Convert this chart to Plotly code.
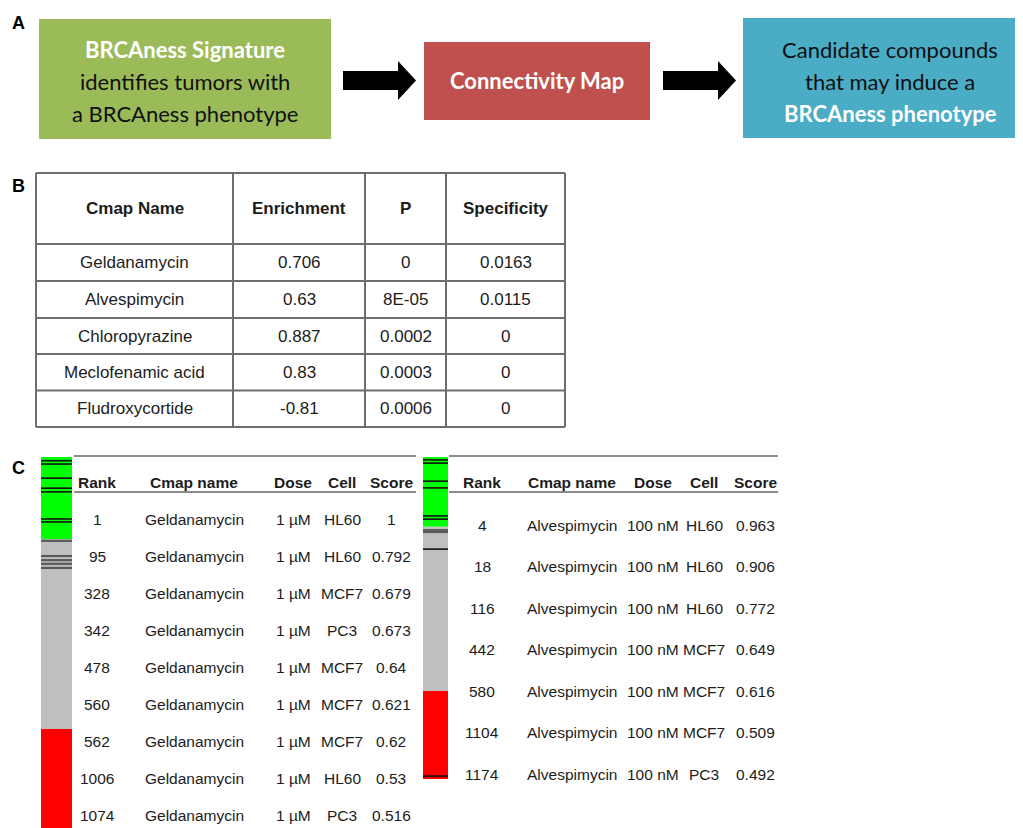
import plotly.graph_objects as go

# ---------------- DATA ----------------
flow_text = [
    ["BRCAness Signature", "identifies tumors with", "a BRCAness phenotype"],
    ["Connectivity Map"],
    ["Candidate compounds", "that may induce a", "BRCAness phenotype"],
]
flow_emphasis = [[True, False, False], [True], [False, False, True]]

b_headers = ["Cmap Name", "Enrichment", "P", "Specificity"]
b_names = ["Geldanamycin", "Alvespimycin", "Chloropyrazine", "Meclofenamic acid", "Fludroxycortide"]
b_enrichment = [0.706, 0.63, 0.887, 0.83, -0.81]
b_p = ["0", "8E-05", "0.0002", "0.0003", "0.0006"]
b_specificity = ["0.0163", "0.0115", "0", "0", "0"]

c_headers = ["Rank", "Cmap name", "Dose", "Cell", "Score"]
gel_rank = [1, 95, 328, 342, 478, 560, 562, 1006, 1074]
gel_name = "Geldanamycin"
gel_dose = "1 µM"
gel_cell = ["HL60", "HL60", "MCF7", "PC3", "MCF7", "MCF7", "MCF7", "HL60", "PC3"]
gel_score = ["1", "0.792", "0.679", "0.673", "0.64", "0.621", "0.62", "0.53", "0.516"]

alv_rank = [4, 18, 116, 442, 580, 1104, 1174]
alv_name = "Alvespimycin"
alv_dose = "100 nM"
alv_cell = ["HL60", "HL60", "HL60", "MCF7", "MCF7", "MCF7", "PC3"]
alv_score = ["0.963", "0.906", "0.772", "0.649", "0.616", "0.509", "0.492"]

# barcode strips (percent of strip length from top)
gel_segments = [(0, 22.1), (22.1, 73.3), (73.3, 100)]
gel_black = [1.0, 1.9, 5.7, 8.4, 9.4, 16.7, 17.5]
gel_dark = [22.6, 26.7, 27.8, 28.8, 29.9]
alv_segments = [(0, 21.7), (21.7, 72.7), (72.7, 100)]
alv_black = [0.9, 1.9, 7.5, 9.6, 18.3, 19.3, 28.6, 99.1]
alv_dark = [23.0]

# ---------------- STYLE / LAYOUT ----------------
PX, PY = 8, 8            # page body margin
W, H = 1023, 828          # page coordinates used below
FW, FH = W - PX, H - PY   # figure size
seg_colors = ["#00FF00", "#BFBFBF", "#FF0000"]
box_colors = ["#9BBB59", "#C0504D", "#4BACC6"]
box_geo = [(39, 331, 19, 139), (424, 650, 42, 120), (743, 1023, 18, 138)]
line_y = {3: [49, 81, 113], 1: [80]}
flow_font = "Lato"
tfont = "Liberation Sans, Arial"
txt_col = "#1c1c1c"

def px(x):
    return (x - PX) / FW

def py(y):
    return 1 - (y - PY) / FH

fig = go.Figure()
fig.add_trace(go.Scatter(x=[PX, W], y=[PY, H], mode="markers", marker=dict(opacity=0),
                         hoverinfo="skip", showlegend=False))

shapes = []
ann = []

def text(x, y, s, size, bold=False, color=txt_col, family=tfont, xanchor="center"):
    ann.append(dict(x=x, y=y, xref="x", yref="y", text=("<b>%s</b>" % s) if bold else s,
                    showarrow=False, xanchor=xanchor, yanchor="middle",
                    font=dict(family=family, size=size, color=color)))

# panel labels
for lab, ly in [("A", 23), ("B", 186), ("C", 468)]:
    text(18, ly, lab, 18, bold=True, color="#000")

# ---- Panel A ----
for i, lines in enumerate(flow_text):
    x0, x1, y0, y1 = box_geo[i]
    shapes.append(dict(type="rect", xref="x", yref="y", x0=x0, x1=x1, y0=y0, y1=y1,
                       fillcolor=box_colors[i], line=dict(width=0), layer="below"))
    ys = line_y[len(lines)]
    cx = (x0 + x1) / 2 if i < 2 else 890
    for j, s in enumerate(lines):
        em = flow_emphasis[i][j]
        text(cx, ys[j], s, 22, bold=em, color="white" if em else "#111", family=flow_font)

for ax0 in (343, 663):
    path = ("M{a},71 L{b},71 L{b},61 L{c},80.5 L{b},100 L{b},90 L{a},90 Z"
            .format(a=ax0, b=ax0 + 55, c=ax0 + 73))
    shapes.append(dict(type="path", xref="x", yref="y", path=path,
                       fillcolor="black", line=dict(width=0)))

# ---- Panel B ----
bcols = [36, 233, 365, 446, 565]
brows = [173, 244, 281, 318, 354, 390.5, 427]
bc = "#6e6e6e"
for x in bcols:
    shapes.append(dict(type="line", xref="x", yref="y", x0=x, x1=x, y0=brows[0], y1=brows[-1],
                       line=dict(color=bc, width=2)))
for y in brows:
    shapes.append(dict(type="line", xref="x", yref="y", x0=bcols[0], x1=bcols[-1], y0=y, y1=y,
                       line=dict(color=bc, width=2)))
bcx = [(bcols[k] + bcols[k + 1]) / 2 for k in range(4)]
for k, h in enumerate(b_headers):
    text(bcx[k], (brows[0] + brows[1]) / 2, h, 17, bold=True)
for r in range(len(b_names)):
    yc = (brows[r + 1] + brows[r + 2]) / 2
    vals = [b_names[r], str(b_enrichment[r]), b_p[r], b_specificity[r]]
    for k, v in enumerate(vals):
        text(bcx[k], yc, v, 17)

# ---- Panel C tables ----
def ctable(xl, xr, colx, y0, dy, ranks, name, dose, cells, scores):
    for yy in (456, 492):
        shapes.append(dict(type="line", xref="x", yref="y", x0=xl, x1=xr, y0=yy, y1=yy,
                           line=dict(color="#8c8c8c", width=2)))
    for k, h in enumerate(c_headers):
        text(colx[k], 482, h, 15.5, bold=True)
    for r in range(len(ranks)):
        yc = y0 + r * dy
        vals = [str(ranks[r]), name, dose, cells[r], scores[r]]
        for k, v in enumerate(vals):
            text(colx[k], yc, v, 15.5)

ctable(74, 416, [97, 194, 293, 342, 391], 519.5, 37.0, gel_rank, gel_name, gel_dose, gel_cell, gel_score)
ctable(449, 778, [482, 572, 653, 704, 755], 525, 41.5, alv_rank, alv_name, alv_dose, alv_cell, alv_score)

# ---- Panel C barcode strips ----
def strip(xa, ya, segments, blacks, darks, dark_w):
    for (s0, s1), col in zip(segments, seg_colors):
        fig.add_trace(go.Bar(x=[0], y=[s1 - s0], base=[s0], width=1, marker=dict(color=col, line=dict(width=0)),
                             xaxis=xa, yaxis=ya, hoverinfo="skip", showlegend=False))
    for vals, col, w in [(darks, "#5a5a5a", dark_w), (blacks, "#111111", 1.6)]:
        xs, ys = [], []
        for v in vals:
            xs += [-0.5, 0.5, None]
            ys += [v, v, None]
        fig.add_trace(go.Scatter(x=xs, y=ys, mode="lines", line=dict(color=col, width=w),
                                 xaxis=xa, yaxis=ya, hoverinfo="skip", showlegend=False))

strip("x2", "y2", gel_segments, gel_black, gel_dark, 2.2)
strip("x3", "y3", alv_segments, alv_black, alv_dark, 4)

hidden = dict(visible=False, showgrid=False, zeroline=False, fixedrange=True)
fig.update_layout(
    width=FW, height=FH, margin=dict(l=0, r=0, t=0, b=0),
    paper_bgcolor="white", plot_bgcolor="rgba(0,0,0,0)",
    barmode="overlay", showlegend=False,
    xaxis=dict(range=[PX, W], domain=[0, 1], **hidden),
    yaxis=dict(range=[H, PY], domain=[0, 1], **hidden),
    xaxis2=dict(range=[-0.5, 0.5], domain=[px(41), px(72)], anchor="y2", **hidden),
    yaxis2=dict(range=[100, 0], domain=[py(H), py(457)], anchor="x2", **hidden),
    xaxis3=dict(range=[-0.5, 0.5], domain=[px(423), px(448)], anchor="y3", **hidden),
    yaxis3=dict(range=[100, 0], domain=[py(779), py(457)], anchor="x3", **hidden),
    shapes=shapes, annotations=ann,
)
fig.write_html("out.html", config={"displayModeBar": False})
